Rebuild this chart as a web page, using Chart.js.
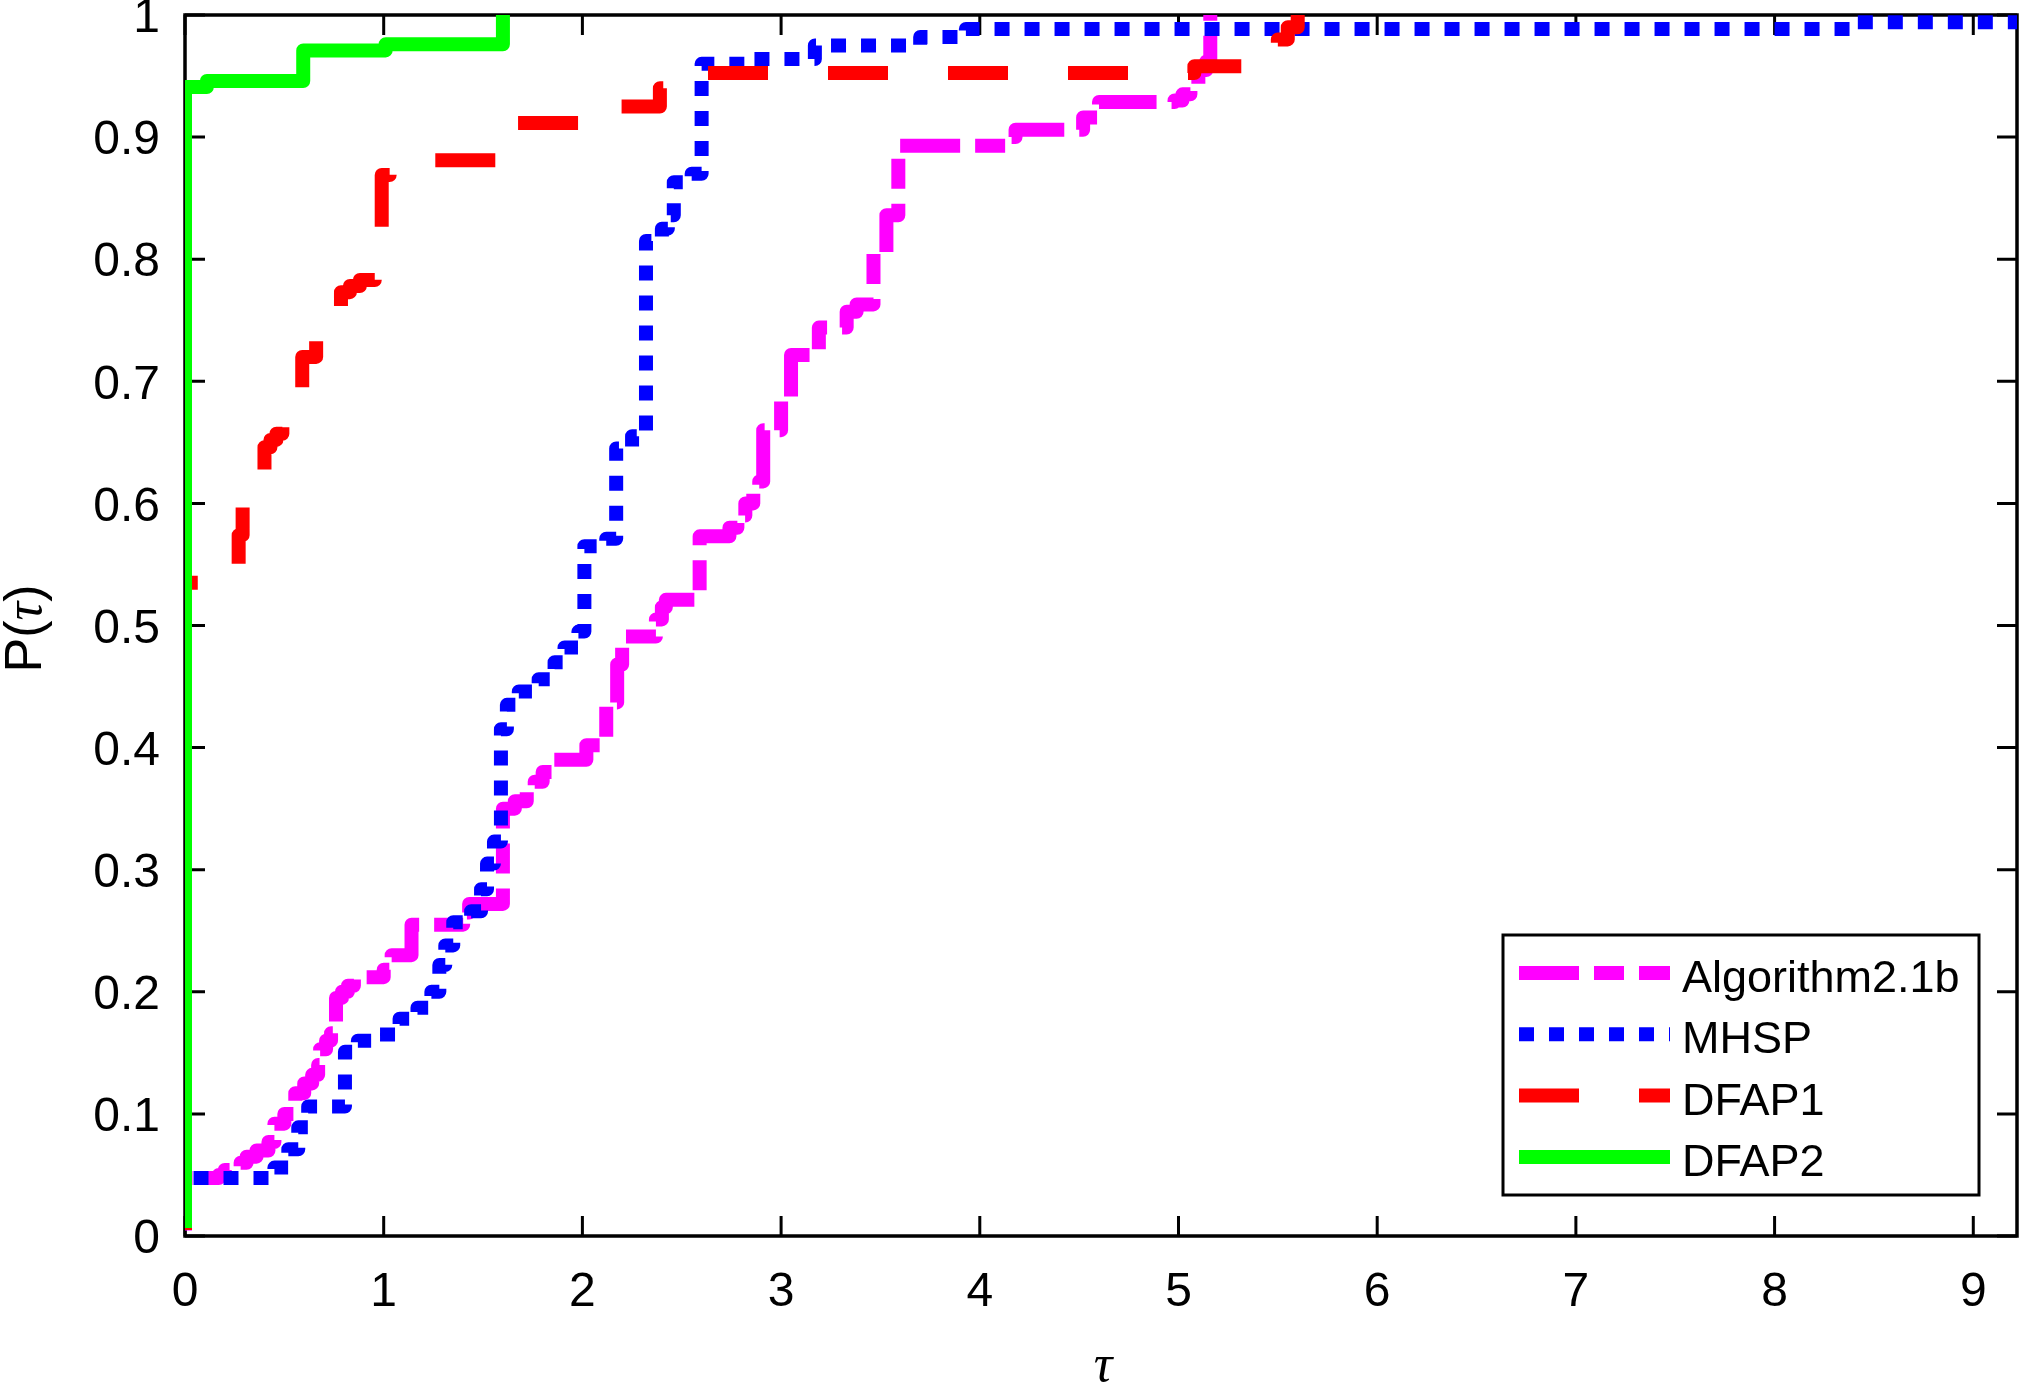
<!DOCTYPE html>
<html>
<head>
<meta charset="utf-8">
<script src="https://cdn.jsdelivr.net/npm/chart.js@4.4.1/dist/chart.umd.min.js"></script>
<style>
  html, body { margin: 0; padding: 0; background: #ffffff; }
  #wrap { width: 2019px; height: 1383px; position: relative; }
  canvas { display: block; }
</style>
</head>
<body>
<div id="wrap"><canvas id="c" width="2019" height="1383"></canvas></div>
<script>
// ---------------- data ----------------
const seriesLabels = ['Algorithm2.1b', 'MHSP', 'DFAP1', 'DFAP2'];

const algTau = [0, 0, 0.17, 0.20, 0.28, 0.31, 0.36, 0.42, 0.45, 0.50, 0.555, 0.60, 0.64, 0.67, 0.68, 0.71, 0.735,
  0.76, 0.79, 0.82, 0.85, 1.00, 1.04, 1.14, 1.40, 1.43, 1.60, 1.66, 1.72, 1.76, 1.80, 1.85, 2.02, 2.12, 2.175,
  2.20, 2.37, 2.40, 2.42, 2.59, 2.74, 2.78, 2.82, 2.86, 2.89, 2.91, 3.00, 3.05, 3.19, 3.33, 3.38, 3.465, 3.53,
  3.59, 4.15, 4.18, 4.52, 4.60, 4.98, 5.02, 5.06, 5.10, 5.14, 5.16];
const algP = [0, 0.0475, 0.05, 0.054, 0.06, 0.065, 0.07, 0.077, 0.092, 0.10, 0.117, 0.125, 0.132, 0.14, 0.153, 0.16, 0.166,
  0.195, 0.20, 0.205, 0.212, 0.218, 0.23, 0.255, 0.265, 0.272, 0.35, 0.356, 0.364, 0.372, 0.38, 0.39, 0.402, 0.437, 0.468,
  0.491, 0.505, 0.515, 0.521, 0.573, 0.58, 0.59, 0.60, 0.61, 0.618, 0.66, 0.685, 0.7215, 0.744, 0.757, 0.763, 0.805, 0.836,
  0.893, 0.90, 0.906, 0.916, 0.9287, 0.93, 0.935, 0.94, 0.955, 0.962, 1.0];

const mhspTau = [0, 0, 0.45, 0.52, 0.57, 0.62, 0.805, 0.87, 0.98, 1.08, 1.17, 1.24, 1.28, 1.31, 1.35, 1.44, 1.49, 1.52,
  1.555, 1.59, 1.62, 1.68, 1.78, 1.86, 1.91, 1.98, 2.01, 2.12, 2.17, 2.25, 2.32, 2.40, 2.43, 2.46, 2.55, 2.60, 2.85,
  3.17, 3.70, 3.93, 8.38, 9.22];
const mhspP = [0, 0.0475, 0.056, 0.071, 0.089, 0.106, 0.151, 0.16, 0.165, 0.178, 0.187, 0.20, 0.222, 0.238, 0.257, 0.266,
  0.284, 0.305, 0.323, 0.415, 0.435, 0.446, 0.456, 0.47, 0.482, 0.495, 0.565, 0.571, 0.645, 0.655, 0.815, 0.825, 0.836,
  0.863, 0.87, 0.96, 0.964, 0.975, 0.982, 0.9885, 0.994, 0.994];

const dfap1Tau = [0, 0, 0.10, 0.20, 0.27, 0.29, 0.33, 0.37, 0.40, 0.43, 0.46, 0.49, 0.50, 0.55, 0.59, 0.66, 0.72, 0.785,
  0.83, 0.88, 0.955, 0.99, 1.03, 1.15, 1.62, 2.10, 2.39, 2.42, 2.60, 5.08, 5.45, 5.50, 5.55, 5.60];
const dfap1P = [0, 0.535, 0.54, 0.546, 0.574, 0.597, 0.605, 0.62, 0.646, 0.652, 0.657, 0.663, 0.668, 0.68, 0.72, 0.734,
  0.745, 0.773, 0.778, 0.783, 0.789, 0.869, 0.873, 0.881, 0.9115, 0.925, 0.94, 0.947, 0.9525, 0.958, 0.97, 0.98, 0.99, 1.0];

const dfap2Tau = [0, 0, 0.11, 0.595, 1.01, 1.60];
const dfap2P = [0.0066, 0.941, 0.946, 0.971, 0.976, 1.0];

const xTickValues = [0, 1, 2, 3, 4, 5, 6, 7, 8, 9];
const xTickLabels = ['0', '1', '2', '3', '4', '5', '6', '7', '8', '9'];
const yTickValues = [0, 0.1, 0.2, 0.3, 0.4, 0.5, 0.6, 0.7, 0.8, 0.9, 1];
const yTickLabels = ['0', '0.1', '0.2', '0.3', '0.4', '0.5', '0.6', '0.7', '0.8', '0.9', '1'];
const xRange = [0, 9.22];
const yRange = [0, 1];

// ---------------- helpers / styles ----------------
const SANS = '"Liberation Sans", Arial, Helvetica, sans-serif';
const SERIF = '"Liberation Serif", "DejaVu Serif", serif';
const toPts = (xs, ys) => xs.map((v, i) => ({ x: v, y: ys[i] }));

const styles = [
  { color: '#ff00ff', width: 14, dash: [60, 15, 30, 15], offset: -5.5, order: 4 },
  { color: '#0000ff', width: 14, dash: [15, 15], offset: -6.5, order: 3 },
  { color: '#ff0000', width: 14, dash: [60, 60], offset: -6, order: 2 },
  { color: '#00ff00', width: 14, dash: [], offset: 0, order: 1 }
];
const seriesData = [toPts(algTau, algP), toPts(mhspTau, mhspP), toPts(dfap1Tau, dfap1P), toPts(dfap2Tau, dfap2P)];

const TICK_LEN = 20;

const framePlugin = {
  id: 'matlabFrame',
  beforeDatasetsDraw(chart) {
    const { ctx, chartArea: a, scales } = chart;
    ctx.save();
    ctx.strokeStyle = '#000';
    ctx.lineWidth = 3.5;
    ctx.setLineDash([]);
    ctx.strokeRect(a.left, a.top, a.right - a.left, a.bottom - a.top);
    ctx.lineWidth = 3;
    ctx.beginPath();
    xTickValues.forEach(v => {
      const px = scales.x.getPixelForValue(v);
      ctx.moveTo(px, a.bottom); ctx.lineTo(px, a.bottom - TICK_LEN);
      ctx.moveTo(px, a.top); ctx.lineTo(px, a.top + TICK_LEN);
    });
    yTickValues.forEach(v => {
      const py = scales.y.getPixelForValue(v);
      ctx.moveTo(a.left, py); ctx.lineTo(a.left + TICK_LEN, py);
      ctx.moveTo(a.right, py); ctx.lineTo(a.right - TICK_LEN, py);
    });
    ctx.stroke();
    ctx.restore();
  }
};

const legendBox = { x: 1503, y: 935, w: 476, h: 260, firstY: 973, rowGap: 61.3, s0: 1519, s1: 1670, tx: 1682, base: 19 };

const legendPlugin = {
  id: 'boxLegend',
  afterDatasetsDraw(chart) {
    const ctx = chart.ctx;
    const L = legendBox;
    ctx.save();
    ctx.fillStyle = '#fff';
    ctx.fillRect(L.x, L.y, L.w, L.h);
    ctx.strokeStyle = '#000';
    ctx.lineWidth = 3;
    ctx.setLineDash([]);
    ctx.strokeRect(L.x, L.y, L.w, L.h);
    chart.data.datasets.forEach((ds, i) => {
      const cy = L.firstY + i * L.rowGap;
      ctx.save();
      ctx.strokeStyle = ds.borderColor;
      ctx.lineWidth = ds.borderWidth;
      ctx.lineCap = 'butt';
      ctx.setLineDash(ds.borderDash || []);
      ctx.lineDashOffset = 0;
      ctx.beginPath();
      ctx.moveTo(L.s0, cy);
      ctx.lineTo(L.s1, cy);
      ctx.stroke();
      ctx.restore();
      ctx.fillStyle = '#000';
      ctx.font = '45px ' + SANS;
      ctx.textAlign = 'left';
      ctx.textBaseline = 'alphabetic';
      ctx.fillText(ds.label, L.tx, cy + L.base);
    });
    ctx.restore();
  }
};

const titlePlugin = {
  id: 'axisTitles',
  afterDraw(chart) {
    const { ctx, chartArea: a } = chart;
    ctx.save();
    ctx.fillStyle = '#000';
    ctx.textBaseline = 'alphabetic';
    // x title
    ctx.font = 'italic 52px ' + SERIF;
    ctx.textAlign = 'center';
    ctx.fillText('τ', (a.left + a.right) / 2 + 2, 1381);
    // y title: P(τ) rotated
    const parts = [
      { t: 'P(', f: '52px ' + SANS },
      { t: 'τ', f: 'italic 52px ' + SERIF },
      { t: ')', f: '52px ' + SANS }
    ];
    let total = 0;
    parts.forEach(p => { ctx.font = p.f; p.w = ctx.measureText(p.t).width; total += p.w; });
    ctx.translate(41, (a.top + a.bottom) / 2 + 3);
    ctx.rotate(-Math.PI / 2);
    ctx.textAlign = 'left';
    let cx = -total / 2;
    parts.forEach(p => { ctx.font = p.f; ctx.fillText(p.t, cx, 0); cx += p.w; });
    ctx.restore();
  }
};

Chart.defaults.font.family = SANS;
Chart.defaults.color = '#000';

new Chart(document.getElementById('c'), {
  type: 'line',
  data: {
    datasets: seriesLabels.map((lab, i) => ({
      label: lab,
      data: seriesData[i],
      borderColor: styles[i].color,
      backgroundColor: styles[i].color,
      borderWidth: styles[i].width,
      borderDash: styles[i].dash,
      borderDashOffset: styles[i].offset,
      borderCapStyle: 'butt',
      borderJoinStyle: 'round',
      stepped: 'before',
      pointRadius: 0,
      fill: false,
      tension: 0,
      order: styles[i].order
    }))
  },
  options: {
    responsive: false,
    devicePixelRatio: 1,
    animation: false,
    events: [],
    layout: { padding: { top: 15, right: 2, left: 0, bottom: 0 } },
    plugins: { legend: { display: false }, tooltip: { enabled: false }, title: { display: false } },
    scales: {
      x: {
        type: 'linear',
        min: xRange[0], max: xRange[1],
        afterBuildTicks: s => { s.ticks = xTickValues.map(v => ({ value: v })); },
        afterFit: s => { s.height = 147; s.paddingLeft = 0; s.paddingRight = 0; },
        grid: { display: false, drawTicks: false },
        border: { display: false },
        ticks: {
          callback: (v, i) => xTickLabels[i],
          font: { size: 48, family: SANS },
          color: '#000',
          padding: 28,
          maxRotation: 0,
          autoSkip: false
        }
      },
      y: {
        type: 'linear',
        min: yRange[0], max: yRange[1],
        afterBuildTicks: s => { s.ticks = yTickValues.map(v => ({ value: v })); },
        afterFit: s => { s.width = 185; s.paddingTop = 0; s.paddingBottom = 0; },
        grid: { display: false, drawTicks: false },
        border: { display: false },
        ticks: {
          callback: (v, i) => yTickLabels[i],
          font: { size: 48, family: SANS },
          color: '#000',
          padding: 25,
          labelOffset: 4,
          autoSkip: false
        }
      }
    }
  },
  plugins: [framePlugin, legendPlugin, titlePlugin]
});
</script>
</body>
</html>
